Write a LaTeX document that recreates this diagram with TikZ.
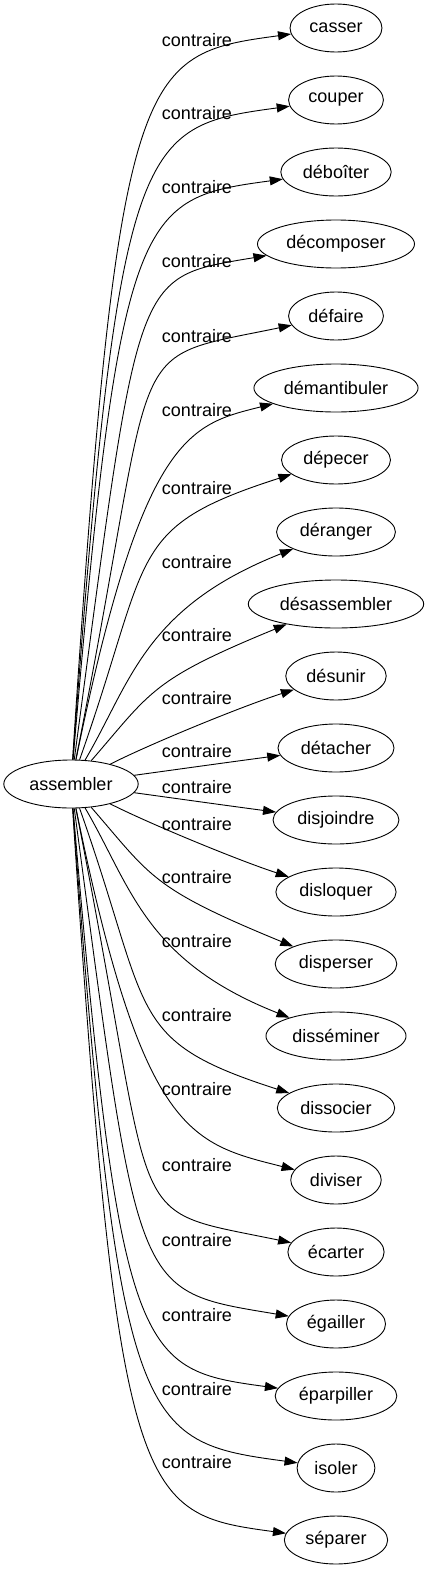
\documentclass[tikz,border=0pt]{standalone}
\usepackage{fontspec}
\setmainfont{Liberation Sans}
\usetikzlibrary{shapes.geometric,arrows.meta}

\begin{document}
\begin{tikzpicture}[x=1pt,y=-1pt,
  word/.style={ellipse, draw, line width=0.9pt, inner xsep=6pt, inner ysep=2pt, minimum height=48pt, font=\fontsize{18}{21}\selectfont},
  rel/.style={inner sep=0pt, font=\fontsize{18}{21}\selectfont},
  link/.style={line width=0.9pt, -{Triangle[length=13pt,width=9pt]}}]

 % frame
 \useasboundingbox (0,0) rectangle (426,1571);

 % nodes
 \node[word] (ASM) at (71,784) {assembler};
 \node[word] (T0)  at (336,28)   {casser};
 \node[word] (T1)  at (336,100)  {couper};
 \node[word] (T2)  at (336,172)  {déboîter};
 \node[word] (T3)  at (336,244)  {décomposer};
 \node[word] (T4)  at (336,316)  {défaire};
 \node[word] (T5)  at (336,388)  {démantibuler};
 \node[word] (T6)  at (336,460)  {dépecer};
 \node[word] (T7)  at (336,532)  {déranger};
 \node[word] (T8)  at (336,604)  {désassembler};
 \node[word] (T9)  at (336,676)  {désunir};
 \node[word] (T10) at (336,748)  {détacher};
 \node[word] (T11) at (336,820)  {disjoindre};
 \node[word] (T12) at (336,892)  {disloquer};
 \node[word] (T13) at (336,964)  {disperser};
 \node[word] (T14) at (336,1036) {disséminer};
 \node[word] (T15) at (336,1108) {dissocier};
 \node[word] (T16) at (336,1180) {diviser};
 \node[word] (T17) at (336,1252) {écarter};
 \node[word] (T18) at (336,1324) {égailler};
 \node[word] (T19) at (336,1396) {éparpiller};
 \node[word] (T20) at (336,1468) {isoler};
 \node[word] (T21) at (336,1540) {séparer};

 % links, upper half
 \draw[link] (ASM) .. controls (118,62) and (139,54.5) .. (T0);
 \draw[link] (ASM) .. controls (119,134) and (139,126.5) .. (T1);
 \draw[link] (ASM) .. controls (120,206) and (139,198.5) .. (T2);
 \draw[link] (ASM) .. controls (140,268) and (132,278) .. (T3);
 \draw[link] (ASM) .. controls (161.5,328) and (117.5,361.4) .. (T4);
 \draw[link] (ASM) .. controls (142.7,433.7) and (189.6,424.7) .. (T5);
 \draw[link] (ASM) .. controls (152.6,553.5) and (124.4,527.8) .. (T6);
 \draw[link] (ASM) .. controls (131,681.9) and (144,607.8) .. (T7);
 \draw[link] (ASM) .. controls (151.5,691.2) and (150.8,680.1) .. (T8);
 \draw[link] (ASM) .. controls (150,744) and (240,707) .. (T9);
 \draw[link] (ASM) .. controls (180,769) and (230,762) .. (T10);

 % links, lower half (mirrored)
 \draw[link] (ASM) .. controls (180,799) and (230,806) .. (T11);
 \draw[link] (ASM) .. controls (150,824) and (240,861) .. (T12);
 \draw[link] (ASM) .. controls (151.5,876.8) and (150.8,887.9) .. (T13);
 \draw[link] (ASM) .. controls (131,886.1) and (144,960.2) .. (T14);
 \draw[link] (ASM) .. controls (152.6,1014.5) and (124.4,1040.2) .. (T15);
 \draw[link] (ASM) .. controls (142.7,1134.3) and (189.6,1143.3) .. (T16);
 \draw[link] (ASM) .. controls (161.5,1240) and (117.5,1206.6) .. (T17);
 \draw[link] (ASM) .. controls (140,1300) and (132,1290) .. (T18);
 \draw[link] (ASM) .. controls (120,1362) and (139,1369.5) .. (T19);
 \draw[link] (ASM) .. controls (119,1434) and (139,1441.5) .. (T20);
 \draw[link] (ASM) .. controls (118,1506) and (139,1513.5) .. (T21);

 % labels
 \node[rel] (L0)  at (197,40)   {contraire};
 \node[rel] (L1)  at (197,113)  {contraire};
 \node[rel] (L2)  at (197,187)  {contraire};
 \node[rel] (L3)  at (197,261)  {contraire};
 \node[rel] (L4)  at (197,336)  {contraire};
 \node[rel] (L5)  at (197,410)  {contraire};
 \node[rel] (L6)  at (197,488)  {contraire};
 \node[rel] (L7)  at (197,562)  {contraire};
 \node[rel] (L8)  at (197,635)  {contraire};
 \node[rel] (L9)  at (197,698)  {contraire};
 \node[rel] (L10) at (197,751)  {contraire};
 \node[rel] (L11) at (197,787)  {contraire};
 \node[rel] (L12) at (197,824)  {contraire};
 \node[rel] (L13) at (197,877)  {contraire};
 \node[rel] (L14) at (197,941)  {contraire};
 \node[rel] (L15) at (197,1015) {contraire};
 \node[rel] (L16) at (197,1089) {contraire};
 \node[rel] (L17) at (197,1165) {contraire};
 \node[rel] (L18) at (197,1240) {contraire};
 \node[rel] (L19) at (197,1315) {contraire};
 \node[rel] (L20) at (197,1389) {contraire};
 \node[rel] (L21) at (197,1462) {contraire};
\end{tikzpicture}
\end{document}
